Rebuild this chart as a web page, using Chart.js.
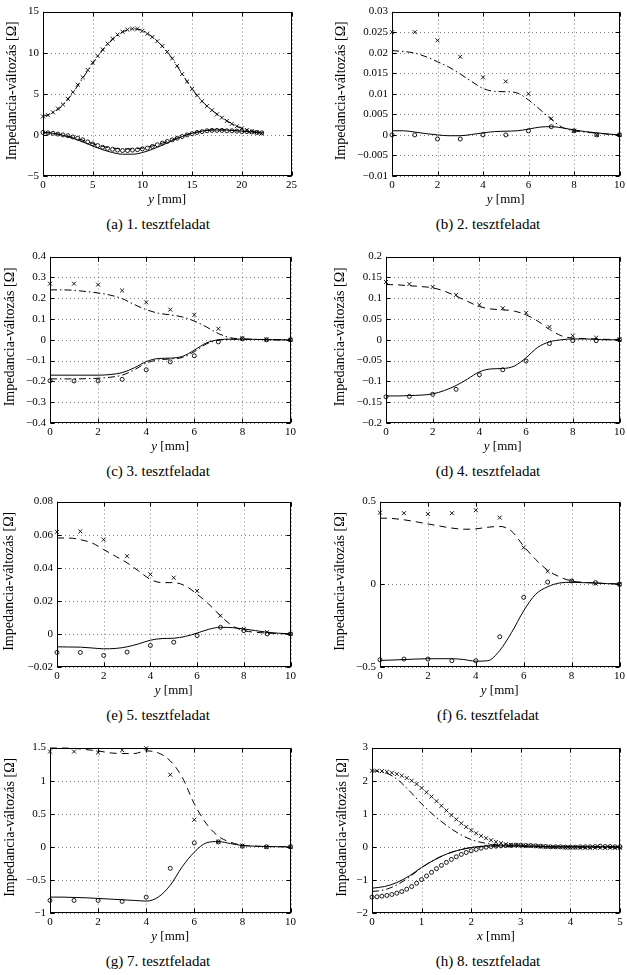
<!DOCTYPE html>
<html>
<head>
<meta charset="utf-8">
<script src="https://cdn.jsdelivr.net/npm/chart.js@4.4.1/dist/chart.umd.min.js"></script>
<style>
  html, body { margin: 0; padding: 0; background: #fff; }
  body { position: relative; width: 627px; height: 975px; overflow: hidden; font-family: "Liberation Serif", "DejaVu Serif", serif; color: #000; }
  canvas { position: absolute; }
  .caption { position: absolute; width: 260px; margin-left: -130px; text-align: center; font-size: 15px; line-height: 17px; white-space: nowrap; }
</style>
</head>
<body>
<script>
// shared x positions (mm)
const wholeMm = [0, 1, 2, 3, 4, 5, 6, 7, 8, 9, 10];
const halfMm = [0, 0.5, 1, 1.5, 2, 2.5, 3, 3.5, 4, 4.5, 5, 5.5, 6, 6.5, 7, 7.5, 8, 8.5, 9, 9.5, 10];

// (a) 1. tesztfeladat
const aPts = [0, 0.5, 1, 1.5, 2, 2.5, 3, 3.5, 4, 4.5, 5, 5.5, 6, 6.5, 7, 7.5, 8, 8.5, 9, 9.5, 10, 10.5, 11, 11.5, 12, 12.5, 13, 13.5, 14, 14.5, 15, 15.5, 16, 16.5, 17, 17.5, 18, 18.5, 19, 19.5, 20, 20.5, 21, 21.5, 22];
const aCross = [2.25, 2.4, 2.75, 3.2, 3.7, 4.4, 5.2, 6.1, 7.0, 7.9, 8.8, 9.6, 10.4, 11.1, 11.7, 12.2, 12.55, 12.8, 12.9, 12.9, 12.65, 12.3, 11.9, 11.4, 10.8, 10.1, 9.3, 8.4, 7.4, 6.5, 5.6, 4.8, 4.1, 3.5, 3.0, 2.5, 2.1, 1.7, 1.35, 1.05, 0.8, 0.6, 0.45, 0.3, 0.2];
const aRing = [0.3, 0.25, 0.2, 0.1, 0.0, -0.1, -0.25, -0.4, -0.6, -0.85, -1.1, -1.3, -1.5, -1.65, -1.75, -1.85, -1.9, -1.9, -1.85, -1.8, -1.7, -1.6, -1.4, -1.2, -1.0, -0.8, -0.6, -0.4, -0.2, 0.0, 0.15, 0.3, 0.4, 0.5, 0.55, 0.55, 0.55, 0.5, 0.5, 0.45, 0.4, 0.4, 0.35, 0.3, 0.25];
const aLineX = [0, 1, 2, 3, 4, 5, 6, 7, 8, 9, 10, 11, 12, 13, 14, 15, 16, 17, 18, 19, 20, 21, 22];
const aUpper = [2.25, 2.7, 3.6, 5.1, 6.9, 8.7, 10.3, 11.6, 12.5, 12.9, 12.7, 11.9, 10.8, 9.3, 7.4, 5.6, 4.1, 3.0, 2.1, 1.35, 0.8, 0.45, 0.2];
const aLower = [0.3, 0.2, -0.05, -0.4, -0.85, -1.35, -1.8, -2.15, -2.35, -2.35, -2.15, -1.75, -1.25, -0.7, -0.2, 0.2, 0.45, 0.6, 0.6, 0.55, 0.45, 0.35, 0.25];
const aLower2 = [0.3, 0.2, 0.0, -0.3, -0.65, -1.05, -1.4, -1.6, -1.7, -1.7, -1.6, -1.35, -1.0, -0.6, -0.15, 0.2, 0.45, 0.6, 0.6, 0.55, 0.45, 0.35, 0.25];

// (b) 2. tesztfeladat
const bCross = [0.025, 0.025, 0.023, 0.019, 0.014, 0.013, 0.010, 0.004, 0.001, 0.0, 0.0];
const bRing = [0, 0, -0.001, -0.001, 0, 0, 0.001, 0.002, 0.001, 0, 0];
const bUpper = [0.0205, 0.0203, 0.0199, 0.019, 0.0178, 0.0165, 0.0148, 0.013, 0.0113, 0.0106, 0.0105, 0.0102, 0.0085, 0.0062, 0.0038, 0.0018, 0.001, 0.0007, 0.0004, 0.0002, 0.0];
const bLower = [0.001, 0.001, 0.0007, 0.0003, 0.0, -0.0002, -0.0002, 0.0001, 0.0005, 0.0008, 0.0009, 0.001, 0.0014, 0.0019, 0.002, 0.0017, 0.0012, 0.0008, 0.0005, 0.0002, 0.0];

// (c) 3. tesztfeladat
const cCross = [0.27, 0.27, 0.265, 0.237, 0.18, 0.145, 0.12, 0.053, 0.007, 0.002, 0.0];
const cRing = [-0.197, -0.198, -0.198, -0.19, -0.144, -0.106, -0.077, -0.01, 0.005, 0.0, 0.0];
const cUpper = [0.24, 0.24, 0.238, 0.232, 0.225, 0.215, 0.198, 0.17, 0.145, 0.128, 0.12, 0.11, 0.09, 0.062, 0.03, 0.01, 0.004, 0.002, 0.001, 0.0, 0.0];
const cLower = [-0.17, -0.17, -0.17, -0.17, -0.17, -0.167, -0.158, -0.135, -0.105, -0.09, -0.088, -0.08, -0.05, -0.015, 0.0, 0.003, 0.003, 0.002, 0.001, 0.0, 0.0];
const cLower2 = [-0.188, -0.188, -0.188, -0.187, -0.185, -0.18, -0.17, -0.145, -0.112, -0.097, -0.092, -0.085, -0.057, -0.02, -0.002, 0.003, 0.003, 0.002, 0.001, 0.0, 0.0];

// (d) 4. tesztfeladat
const dCross = [0.139, 0.134, 0.127, 0.108, 0.084, 0.076, 0.065, 0.031, 0.01, 0.005, 0.001];
const dRing = [-0.137, -0.136, -0.131, -0.119, -0.084, -0.072, -0.051, -0.009, -0.002, -0.002, 0.0];
const dUpper = [0.133, 0.132, 0.13, 0.128, 0.125, 0.117, 0.105, 0.092, 0.08, 0.074, 0.072, 0.069, 0.06, 0.045, 0.025, 0.01, 0.004, 0.003, 0.002, 0.001, 0.001];
const dLower = [-0.135, -0.135, -0.134, -0.133, -0.13, -0.122, -0.11, -0.094, -0.077, -0.07, -0.069, -0.063, -0.043, -0.018, -0.005, 0.0, 0.002, 0.002, 0.001, 0.0, 0.0];

// (e) 5. tesztfeladat
const eCross = [0.0617, 0.062, 0.057, 0.047, 0.036, 0.034, 0.026, 0.011, 0.003, 0.001, 0.0];
const eRing = [-0.0112, -0.0112, -0.013, -0.011, -0.007, -0.005, -0.001, 0.004, 0.002, 0.0, 0.0];
const eUpper = [0.058, 0.058, 0.057, 0.055, 0.051, 0.047, 0.043, 0.038, 0.033, 0.031, 0.031, 0.029, 0.024, 0.018, 0.011, 0.005, 0.002, 0.001, 0.0005, 0.0002, 0.0];
const eLower = [-0.0078, -0.0079, -0.008, -0.0085, -0.009, -0.0088, -0.0078, -0.006, -0.0038, -0.0028, -0.0026, -0.0015, 0.0005, 0.0028, 0.004, 0.0038, 0.003, 0.002, 0.001, 0.0004, 0.0];

// (f) 6. tesztfeladat
const fCross = [0.433, 0.43, 0.425, 0.43, 0.448, 0.403, 0.222, 0.079, 0.02, 0.004, 0.0];
const fRing = [-0.456, -0.452, -0.452, -0.462, -0.462, -0.317, -0.079, 0.014, 0.02, 0.01, 0.0];
const fUpper = [0.4, 0.398, 0.39, 0.378, 0.365, 0.352, 0.34, 0.333, 0.335, 0.345, 0.35, 0.32, 0.23, 0.15, 0.085, 0.045, 0.02, 0.012, 0.008, 0.004, 0.002];
const fLower = [-0.46, -0.458, -0.455, -0.452, -0.45, -0.45, -0.45, -0.455, -0.465, -0.462, -0.4, -0.29, -0.16, -0.06, -0.015, 0.008, 0.012, 0.01, 0.008, 0.004, 0.002];

// (g) 7. tesztfeladat
const gCross = [1.44, 1.44, 1.425, 1.46, 1.49, 1.09, 0.41, 0.075, 0.015, 0.0, 0.0];
const gRing = [-0.81, -0.81, -0.81, -0.825, -0.76, -0.325, 0.06, 0.075, 0.01, 0.0, 0.0];
const gUpper = [1.5, 1.5, 1.49, 1.47, 1.45, 1.42, 1.41, 1.41, 1.45, 1.42, 1.3, 1.05, 0.65, 0.35, 0.16, 0.07, 0.025, 0.01, 0.005, 0.002, 0.0];
const gLower = [-0.76, -0.76, -0.765, -0.77, -0.78, -0.79, -0.8, -0.81, -0.82, -0.76, -0.58, -0.3, -0.08, 0.06, 0.08, 0.05, 0.02, 0.01, 0.005, 0.002, 0.0];

// (h) 8. tesztfeladat (x irány)
const hPts = [0, 0.1, 0.2, 0.3, 0.4, 0.5, 0.6, 0.7, 0.8, 0.9, 1.0, 1.1, 1.2, 1.3, 1.4, 1.5, 1.6, 1.7, 1.8, 1.9, 2.0, 2.1, 2.2, 2.3, 2.4, 2.5, 2.6, 2.7, 2.8, 2.9, 3.0, 3.1, 3.2, 3.3, 3.4, 3.5, 3.6, 3.7, 3.8, 3.9, 4.0, 4.1, 4.2, 4.3, 4.4, 4.5, 4.6, 4.7, 4.8, 4.9, 5.0];
const hCross = [2.30, 2.30, 2.29, 2.27, 2.24, 2.20, 2.15, 2.08, 2.00, 1.90, 1.78, 1.65, 1.52, 1.38, 1.24, 1.10, 0.96, 0.83, 0.71, 0.60, 0.50, 0.41, 0.33, 0.26, 0.20, 0.15, 0.11, 0.08, 0.06, 0.05, 0.04, 0.03, 0.03, 0.02, 0.01, 0.00, 0.00, -0.01, -0.01, -0.02, -0.02, -0.02, -0.03, -0.03, -0.03, -0.03, -0.03, -0.03, -0.03, -0.03, -0.03];
const hRing = [-1.52, -1.51, -1.49, -1.47, -1.44, -1.40, -1.35, -1.28, -1.20, -1.10, -0.99, -0.88, -0.77, -0.66, -0.56, -0.47, -0.38, -0.30, -0.23, -0.17, -0.12, -0.08, -0.04, -0.01, 0.01, 0.02, 0.03, 0.04, 0.04, 0.05, 0.05, 0.04, 0.04, 0.03, 0.02, 0.01, 0.00, 0.00, 0.00, -0.01, -0.01, -0.01, 0.00, 0.00, 0.00, 0.01, 0.02, 0.01, 0.01, 0.00, 0.00];
const hLineX = [0, 0.25, 0.5, 0.75, 1, 1.25, 1.5, 1.75, 2, 2.25, 2.5, 2.75, 3, 3.25, 3.5, 3.75, 4, 4.25, 4.5, 4.75, 5];
const hUpper = [2.3, 2.25, 2.05, 1.7, 1.3, 0.95, 0.65, 0.4, 0.22, 0.12, 0.06, 0.03, 0.02, 0.01, 0.0, 0.0, 0.0, 0.0, 0.0, 0.0, 0.0];
const hLower = [-1.25, -1.2, -1.08, -0.88, -0.62, -0.4, -0.22, -0.1, -0.02, 0.02, 0.03, 0.03, 0.03, 0.02, 0.01, 0.0, 0.0, 0.0, 0.0, 0.0, 0.0];
const hLower2 = [-1.35, -1.3, -1.15, -0.92, -0.63, -0.4, -0.22, -0.1, -0.02, 0.01, 0.02, 0.02, 0.02, 0.01, 0.0, 0.0, 0.0, 0.0, 0.0, 0.0, 0.0];

const FONT = '"Liberation Serif", "DejaVu Serif", serif';
const dashes = { solid: [], dash: [7, 5], dashdot: [7, 3, 1.5, 3] };

// box: [left, top, right, bottom] of the plot area in page pixels
const panels = [
  { col: 0,   box: [43, 9, 292, 176],    titleX: 12,  xMax: 25, xStep: 5, yMin: -5,    yMax: 15,   yStep: 5,     xVar: 'y', caption: '(a) 1. tesztfeladat',
    series: [[aLineX, aUpper, 'dashdot'], [aLineX, aLower, 'solid'], [aLineX, aLower2, 'dash'], [aPts, aCross, 'cross'], [aPts, aRing, 'ring']] },
  { col: 313, box: [392, 9, 620, 176],   titleX: 341, xMax: 10, xStep: 2, yMin: -0.01, yMax: 0.03, yStep: 0.005, xVar: 'y', caption: '(b) 2. tesztfeladat',
    series: [[halfMm, bUpper, 'dashdot'], [halfMm, bLower, 'solid'], [wholeMm, bCross, 'cross'], [wholeMm, bRing, 'ring']] },
  { col: 0,   box: [50, 254, 291, 423],  titleX: 10,  xMax: 10, xStep: 2, yMin: -0.4,  yMax: 0.4,  yStep: 0.1,   xVar: 'y', caption: '(c) 3. tesztfeladat',
    series: [[halfMm, cUpper, 'dashdot'], [halfMm, cLower, 'solid'], [halfMm, cLower2, 'dashdot'], [wholeMm, cCross, 'cross'], [wholeMm, cRing, 'ring']] },
  { col: 313, box: [386, 254, 620, 423], titleX: 340, xMax: 10, xStep: 2, yMin: -0.2,  yMax: 0.2,  yStep: 0.05,  xVar: 'y', caption: '(d) 4. tesztfeladat',
    series: [[halfMm, dUpper, 'dash'], [halfMm, dLower, 'solid'], [wholeMm, dCross, 'cross'], [wholeMm, dRing, 'ring']] },
  { col: 0,   box: [57, 499, 291, 667],  titleX: 9,   xMax: 10, xStep: 2, yMin: -0.02, yMax: 0.08, yStep: 0.02,  xVar: 'y', caption: '(e) 5. tesztfeladat',
    series: [[halfMm, eUpper, 'dash'], [halfMm, eLower, 'solid'], [wholeMm, eCross, 'cross'], [wholeMm, eRing, 'ring']] },
  { col: 313, box: [380, 499, 620, 667], titleX: 340, xMax: 10, xStep: 2, yMin: -0.5,  yMax: 0.5,  yStep: 0.5,   xVar: 'y', caption: '(f) 6. tesztfeladat',
    series: [[halfMm, fUpper, 'dash'], [halfMm, fLower, 'solid'], [wholeMm, fCross, 'cross'], [wholeMm, fRing, 'ring']] },
  { col: 0,   box: [50, 745, 291, 913],  titleX: 10,  xMax: 10, xStep: 2, yMin: -1,    yMax: 1.5,  yStep: 0.5,   xVar: 'y', caption: '(g) 7. tesztfeladat',
    series: [[halfMm, gUpper, 'dash'], [halfMm, gLower, 'solid'], [wholeMm, gCross, 'cross'], [wholeMm, gRing, 'ring']] },
  { col: 313, box: [372, 745, 620, 913], titleX: 342, xMax: 5,  xStep: 1, yMin: -2,    yMax: 3,    yStep: 1,     xVar: 'x', caption: '(h) 8. tesztfeladat',
    series: [[hLineX, hUpper, 'dashdot'], [hLineX, hLower, 'solid'], [hLineX, hLower2, 'dashdot'], [hPts, hCross, 'cross'], [hPts, hRing, 'ring']] }
];

function fmt(v) {
  return String(Number(v.toFixed(6))).replace('-', '\u2212');
}

function dataset(xs, ys, kind) {
  const data = xs.map((x, i) => ({ x: x, y: ys[i] }));
  if (kind === 'cross' || kind === 'ring') {
    return {
      data: data,
      showLine: false,
      clip: false,
      pointStyle: kind === 'cross' ? 'crossRot' : 'circle',
      pointRadius: kind === 'cross' ? 2.8 : 2,
      pointBorderWidth: 0.9,
      borderColor: '#000',
      backgroundColor: 'rgba(0,0,0,0)'
    };
  }
  return {
    data: data,
    showLine: true,
    pointRadius: 0,
    borderColor: '#000',
    borderWidth: 1,
    borderDash: dashes[kind],
    cubicInterpolationMode: 'monotone',
    fill: false
  };
}

// dotted grid, framed box with inward ticks, axis titles
const framePlugin = {
  id: 'frame',
  beforeDatasetsDraw(chart) {
    const { ctx, chartArea: a, scales: { x, y } } = chart;
    ctx.save();
    ctx.strokeStyle = 'rgba(0,0,0,0.5)';
    ctx.lineWidth = 1;
    ctx.setLineDash([1, 3]);
    ctx.beginPath();
    x.ticks.forEach(t => {
      const p = Math.round(x.getPixelForValue(t.value)) + 0.5;
      ctx.moveTo(p, a.top); ctx.lineTo(p, a.bottom);
    });
    y.ticks.forEach(t => {
      const p = Math.round(y.getPixelForValue(t.value)) + 0.5;
      ctx.moveTo(a.left, p); ctx.lineTo(a.right, p);
    });
    ctx.stroke();
    ctx.restore();
  },
  afterDatasetsDraw(chart, args, opts) {
    const { ctx, chartArea: a, scales: { x, y } } = chart;
    const L = Math.round(a.left) + 0.5, R = Math.round(a.right) - 0.5;
    const T = Math.round(a.top) + 0.5, B = Math.round(a.bottom) - 0.5;
    ctx.save();
    ctx.strokeStyle = '#000';
    ctx.lineWidth = 1;
    ctx.setLineDash([]);
    ctx.strokeRect(L, T, R - L, B - T);
    ctx.beginPath();
    x.ticks.forEach(t => {
      const p = Math.round(x.getPixelForValue(t.value)) + 0.5;
      ctx.moveTo(p, B); ctx.lineTo(p, B - 4);
      ctx.moveTo(p, T); ctx.lineTo(p, T + 4);
    });
    y.ticks.forEach(t => {
      const p = Math.round(y.getPixelForValue(t.value)) + 0.5;
      ctx.moveTo(L, p); ctx.lineTo(L + 4, p);
      ctx.moveTo(R, p); ctx.lineTo(R - 4, p);
    });
    ctx.stroke();

    // x axis title: italic variable + [mm]
    ctx.fillStyle = '#000';
    ctx.textBaseline = 'middle';
    ctx.textAlign = 'left';
    ctx.font = 'italic 13px ' + FONT;
    const w1 = ctx.measureText(opts.xVar).width;
    ctx.font = '13px ' + FONT;
    const w2 = ctx.measureText(' [mm]').width;
    const sx = (a.left + a.right) / 2 - (w1 + w2) / 2;
    ctx.font = 'italic 13px ' + FONT;
    ctx.fillText(opts.xVar, sx, a.bottom + 24);
    ctx.font = '13px ' + FONT;
    ctx.fillText(' [mm]', sx + w1, a.bottom + 24);

    // y axis title
    ctx.font = '14px ' + FONT;
    ctx.translate(opts.titleX, (a.top + a.bottom) / 2 - 3);
    ctx.rotate(-Math.PI / 2);
    ctx.textAlign = 'center';
    ctx.fillText('Impedancia-változás [Ω]', 0, 0);
    ctx.restore();
  }
};

panels.forEach(p => {
  const [l, t, r, b] = p.box;
  const canvas = document.createElement('canvas');
  const w = r - p.col + 8;
  const h = b - t + 8 + 31;
  canvas.width = w;
  canvas.height = h;
  canvas.style.left = p.col + 'px';
  canvas.style.top = (t - 8) + 'px';
  canvas.style.width = w + 'px';
  canvas.style.height = h + 'px';
  document.body.appendChild(canvas);

  const cap = document.createElement('div');
  cap.className = 'caption';
  cap.textContent = p.caption;
  cap.style.left = (p.col === 0 ? 158 : 488) + 'px';
  cap.style.top = (b + 40) + 'px';
  document.body.appendChild(cap);

  new Chart(canvas.getContext('2d'), {
    type: 'scatter',
    data: { datasets: p.series.map(s => dataset(s[0], s[1], s[2])) },
    options: {
      responsive: false,
      animation: false,
      devicePixelRatio: 1,
      events: [],
      layout: { padding: { top: 8, right: 8, left: 0, bottom: 0 } },
      plugins: {
        legend: { display: false },
        tooltip: { enabled: false },
        frame: { titleX: p.titleX - p.col, xVar: p.xVar }
      },
      scales: {
        x: {
          type: 'linear',
          min: 0,
          max: p.xMax,
          grid: { display: false, drawTicks: false },
          border: { display: false },
          ticks: { stepSize: p.xStep, padding: 3, autoSkip: false, maxRotation: 0, color: '#000', font: { family: FONT, size: 11 }, callback: fmt },
          afterFit(s) { s.height = 31; }
        },
        y: {
          type: 'linear',
          min: p.yMin,
          max: p.yMax,
          grid: { display: false, drawTicks: false },
          border: { display: false },
          ticks: { stepSize: p.yStep, padding: 4, autoSkip: false, color: '#000', font: { family: FONT, size: 11 }, callback: fmt },
          afterFit(s) { s.width = l - p.col; }
        }
      }
    },
    plugins: [framePlugin]
  });
});
</script>
</body>
</html>
